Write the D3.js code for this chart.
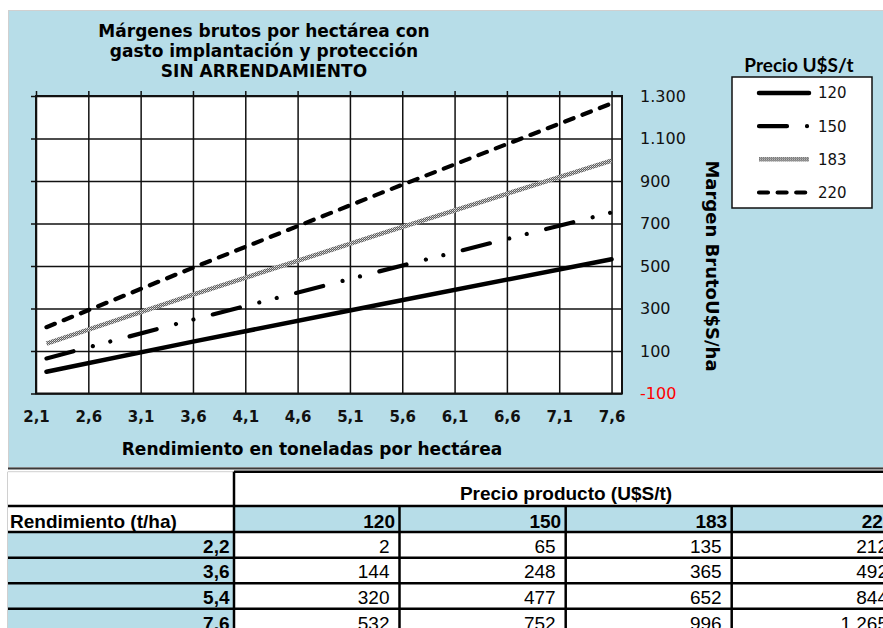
<!DOCTYPE html>
<html>
<head>
<meta charset="utf-8">
<script src="https://cdn.jsdelivr.net/npm/d3@7"></script>
<style>
  body { margin: 0; background: #fff; }
  svg { display: block; }
</style>
</head>
<body>
<div class="chart"></div>
<script>
const yields = [2.2, 3.6, 5.4, 7.6];          // t/ha
const prices = [120, 150, 183, 220];          // U$S/t
const margin120 = [2, 144, 320, 532];
const margin150 = [65, 248, 477, 752];
const margin183 = [135, 365, 652, 996];
const margin220 = [212, 492, 844, 1265];
const xTicks = [2.1, 2.6, 3.1, 3.6, 4.1, 4.6, 5.1, 5.6, 6.1, 6.6, 7.1, 7.6];
const yTicks = [-100, 100, 300, 500, 700, 900, 1100, 1300];

const titleLines = ["Márgenes brutos por hectárea con", "gasto implantación y protección", "SIN ARRENDAMIENTO"];

const series = [
  {price: 120, values: margin120, style: "solid"},
  {price: 150, values: margin150, style: "dashdotdot"},
  {price: 183, values: margin183, style: "pattern"},
  {price: 220, values: margin220, style: "dash"}
];

const es = d3.formatLocale({decimal: ",", thousands: ".", grouping: [3], currency: ["$", ""], minus: "-"});
const fmtInt = es.format(",.0f");
const fmtDec = es.format(".1f");

const W = 883, H = 628;
const svg = d3.select(".chart").append("svg")
    .attr("width", W).attr("height", H);

const defs = svg.append("defs");
const pat = defs.append("pattern")
    .attr("id", "grayTex")
    .attr("patternUnits", "userSpaceOnUse")
    .attr("width", 2).attr("height", 2);
pat.append("rect").attr("width", 2).attr("height", 2).attr("fill", "#5e5e5e");
pat.append("rect").attr("width", 1).attr("height", 1).attr("fill", "#e4e4e4");
pat.append("rect").attr("x", 1).attr("y", 1).attr("width", 1).attr("height", 1).attr("fill", "#b0b0b0");

// chart panel
svg.append("rect")
    .attr("x", 8.5).attr("y", 10.5).attr("width", 890).attr("height", 457)
    .attr("fill", "#b7dde8")
    .attr("stroke", "#d0d0d0");
svg.append("line")
    .attr("x1", 8).attr("x2", W).attr("y1", 468.5).attr("y2", 468.5)
    .attr("stroke", "#3a3a3a").attr("stroke-width", 2);

// title
svg.append("text")
    .attr("x", 264).attr("y", 37)
    .attr("text-anchor", "middle")
    .style("font-family", "'DejaVu Sans', Verdana, sans-serif")
    .style("font-weight", "bold")
    .style("font-size", "17px")
    .selectAll("tspan")
    .data(titleLines)
    .enter()
    .append("tspan")
    .attr("x", 264)
    .attr("dy", (d, i) => i === 0 ? 0 : 20)
    .text(d => d);

const x = d3.scaleLinear().domain([2.1, 7.7]).range([36, 622]);
const y = d3.scaleLinear().domain([-100, 1300]).range([393.5, 96]);

// plot area
svg.append("rect")
    .attr("x", x.range()[0]).attr("y", y.range()[1])
    .attr("width", x.range()[1] - x.range()[0])
    .attr("height", y.range()[0] - y.range()[1])
    .attr("fill", "#fff");

// gridlines
svg.append("g")
    .attr("class", "grid")
    .attr("transform", `translate(${x.range()[0]},0)`)
    .call(d3.axisLeft(y).tickValues(yTicks).tickSize(-(x.range()[1] - x.range()[0])).tickFormat(""))
    .call(g => g.select(".domain").remove())
    .call(g => g.selectAll("line").attr("stroke", "#111").attr("stroke-width", 1.5));

svg.append("g")
    .attr("class", "grid")
    .attr("transform", `translate(0,${y.range()[0]})`)
    .call(d3.axisTop(x).tickValues(xTicks).tickSize(y.range()[0] - y.range()[1]).tickFormat(""))
    .call(g => g.select(".domain").remove())
    .call(g => g.selectAll("line").attr("stroke", "#111").attr("stroke-width", 1.5));

// tick marks (left and top, outward)
svg.append("g")
    .attr("transform", `translate(${x.range()[0]},0)`)
    .call(d3.axisLeft(y).tickValues(yTicks).tickSize(5).tickFormat(""))
    .call(g => g.select(".domain").remove())
    .call(g => g.selectAll("line").attr("stroke", "#111").attr("stroke-width", 1.5));

svg.append("g")
    .attr("transform", `translate(0,${y.range()[1]})`)
    .call(d3.axisTop(x).tickValues(xTicks).tickSize(5).tickFormat(""))
    .call(g => g.select(".domain").remove())
    .call(g => g.selectAll("line").attr("stroke", "#111").attr("stroke-width", 1.5));

// plot border
svg.append("rect")
    .attr("x", x.range()[0]).attr("y", y.range()[1])
    .attr("width", x.range()[1] - x.range()[0])
    .attr("height", y.range()[0] - y.range()[1])
    .attr("fill", "none")
    .attr("stroke", "#111").attr("stroke-width", 2);

// y labels on the right
svg.append("g")
    .attr("class", "y-labels")
    .attr("transform", `translate(${x.range()[1]},0)`)
    .call(d3.axisRight(y).tickValues(yTicks).tickSize(0).tickPadding(18).tickFormat(fmtInt))
    .call(g => g.select(".domain").remove())
    .call(g => g.selectAll("text")
        .style("font-family", "'DejaVu Sans', Verdana, sans-serif")
        .style("font-size", "16px")
        .attr("fill", d => d < 0 ? "#ff0000" : "#111"));

// x labels at the bottom
svg.append("g")
    .attr("class", "x-labels")
    .attr("transform", `translate(0,${y.range()[0]})`)
    .call(d3.axisBottom(x).tickValues(xTicks).tickSize(0).tickPadding(18).tickFormat(fmtDec))
    .call(g => g.select(".domain").remove())
    .call(g => g.selectAll("text")
        .style("font-family", "'DejaVu Sans', Verdana, sans-serif")
        .style("font-size", "15px")
        .style("font-weight", "bold")
        .attr("fill", "#111"));

// axis titles
svg.append("text")
    .attr("x", 312).attr("y", 455)
    .attr("text-anchor", "middle")
    .style("font-family", "'DejaVu Sans', Verdana, sans-serif")
    .style("font-size", "17px")
    .style("font-weight", "bold")
    .text("Rendimiento en toneladas por hectárea");

svg.append("text")
    .attr("transform", "translate(706,266) rotate(90)")
    .attr("text-anchor", "middle")
    .style("font-family", "'DejaVu Sans', Verdana, sans-serif")
    .style("font-size", "18px")
    .style("font-weight", "bold")
    .text("Margen BrutoU$S/ha");

// line styles
function styleLine(sel, style) {
  sel.attr("fill", "none").attr("stroke-linecap", "round");
  if (style === "solid") {
    sel.attr("stroke", "#000").attr("stroke-width", 4.5);
  } else if (style === "dashdotdot") {
    sel.attr("stroke", "#000").attr("stroke-width", 4.2)
       .attr("stroke-dasharray", "28 20 0.01 18 0.01 20");
  } else if (style === "pattern") {
    sel.attr("stroke", "url(#grayTex)").attr("stroke-width", 4.5).attr("stroke-linecap", "butt");
  } else {
    sel.attr("stroke", "#000").attr("stroke-width", 4.2)
       .attr("stroke-dasharray", "9 9.6");
  }
}

const line = d3.line()
    .x(d => x(d[0]))
    .y(d => y(d[1]));

series.forEach(s => {
  const pts = yields.map((v, i) => [v, s.values[i]]);
  svg.append("path")
      .datum(pts)
      .attr("d", line)
      .call(styleLine, s.style);
});

// legend
svg.append("text")
    .attr("x", 799).attr("y", 72)
    .attr("text-anchor", "middle")
    .style("font-family", "Lato, Carlito, sans-serif")
    .style("font-size", "19px")
    .style("font-weight", "bold")
    .text("Precio U$S/t");

svg.append("rect")
    .attr("x", 732).attr("y", 77).attr("width", 140).attr("height", 131)
    .attr("fill", "#fff").attr("stroke", "#111").attr("stroke-width", 1.5);

const legendY = d3.scalePoint().domain(prices).range([93, 192.5]);
const lg = svg.append("g").selectAll("g")
    .data(series)
    .enter()
    .append("g")
    .attr("transform", d => `translate(0,${legendY(d.price)})`);
lg.append("path")
    .attr("d", "M759,0H809")
    .each(function(d) { d3.select(this).call(styleLine, d.style); });
lg.append("text")
    .attr("x", 818).attr("y", 0).attr("dy", "0.36em")
    .style("font-family", "'DejaVu Sans', Verdana, sans-serif")
    .style("font-size", "15px")
    .attr("fill", "#111")
    .text(d => d.price);

// table below the chart
const colX = [8, 234, 399.5, 565.7, 731.7, 898];
const rowY = [471.7, 506, 532, 557.7, 583.2, 608.8, 634.5];
const tableFont = "'Liberation Sans', Arial, sans-serif";
const tbl = svg.append("g").attr("class", "table");

// fills
tbl.append("rect")
    .attr("x", colX[1]).attr("y", rowY[1]).attr("width", colX[5] - colX[1]).attr("height", rowY[2] - rowY[1])
    .attr("fill", "#b7dde8");
tbl.append("rect")
    .attr("x", colX[0]).attr("y", rowY[2]).attr("width", colX[1] - colX[0]).attr("height", rowY[6] - rowY[2])
    .attr("fill", "#b7dde8");

// light spreadsheet gridlines
tbl.append("line").attr("x1", 7.5).attr("x2", 7.5).attr("y1", rowY[0]).attr("y2", H)
    .attr("stroke", "#d0d0d0").attr("stroke-width", 1);
tbl.append("line").attr("x1", colX[0]).attr("x2", colX[1]).attr("y1", rowY[0]).attr("y2", rowY[0])
    .attr("stroke", "#d0d0d0").attr("stroke-width", 1);

// black borders
const bw = 2.5;
tbl.append("line").attr("x1", colX[1]).attr("x2", W).attr("y1", rowY[0]).attr("y2", rowY[0])
    .attr("stroke", "#000").attr("stroke-width", bw);
tbl.selectAll("line.h")
    .data(rowY.slice(1, 6))
    .enter().append("line")
    .attr("class", "h")
    .attr("x1", colX[0]).attr("x2", W)
    .attr("y1", d => d).attr("y2", d => d)
    .attr("stroke", "#000").attr("stroke-width", bw);
tbl.append("line").attr("x1", colX[1]).attr("x2", colX[1]).attr("y1", rowY[0]).attr("y2", H)
    .attr("stroke", "#000").attr("stroke-width", bw);
tbl.selectAll("line.v")
    .data(colX.slice(2, 5))
    .enter().append("line")
    .attr("class", "v")
    .attr("x1", d => d).attr("x2", d => d)
    .attr("y1", rowY[1]).attr("y2", H)
    .attr("stroke", "#000").attr("stroke-width", bw);

// header texts
tbl.append("text")
    .attr("x", (colX[1] + colX[5]) / 2).attr("y", 500)
    .attr("text-anchor", "middle")
    .style("font-family", tableFont).style("font-size", "19px").style("font-weight", "bold")
    .text("Precio producto (U$S/t)");
tbl.append("text")
    .attr("x", 10).attr("y", rowY[2] - 4.5)
    .style("font-family", tableFont).style("font-size", "19px").style("font-weight", "bold")
    .text("Rendimiento (t/ha)");
tbl.selectAll("text.ph")
    .data(prices)
    .enter().append("text")
    .attr("class", "ph")
    .attr("x", (d, i) => colX[i + 2] - 4.5).attr("y", rowY[2] - 4.5)
    .attr("text-anchor", "end")
    .style("font-family", tableFont).style("font-size", "19px").style("font-weight", "bold")
    .text(d => d);

// rows
yields.forEach((yv, r) => {
  const base = rowY[r + 3] - 5;
  tbl.append("text")
      .attr("x", colX[1] - 4.5).attr("y", base)
      .attr("text-anchor", "end")
      .style("font-family", tableFont).style("font-size", "19px").style("font-weight", "bold")
      .text(fmtDec(yv));
  series.forEach((s, c) => {
    tbl.append("text")
        .attr("x", colX[c + 2] - 10).attr("y", base)
        .attr("text-anchor", "end")
        .style("font-family", tableFont).style("font-size", "19px")
        .text(fmtInt(s.values[r]));
  });
});
</script>
</body>
</html>
